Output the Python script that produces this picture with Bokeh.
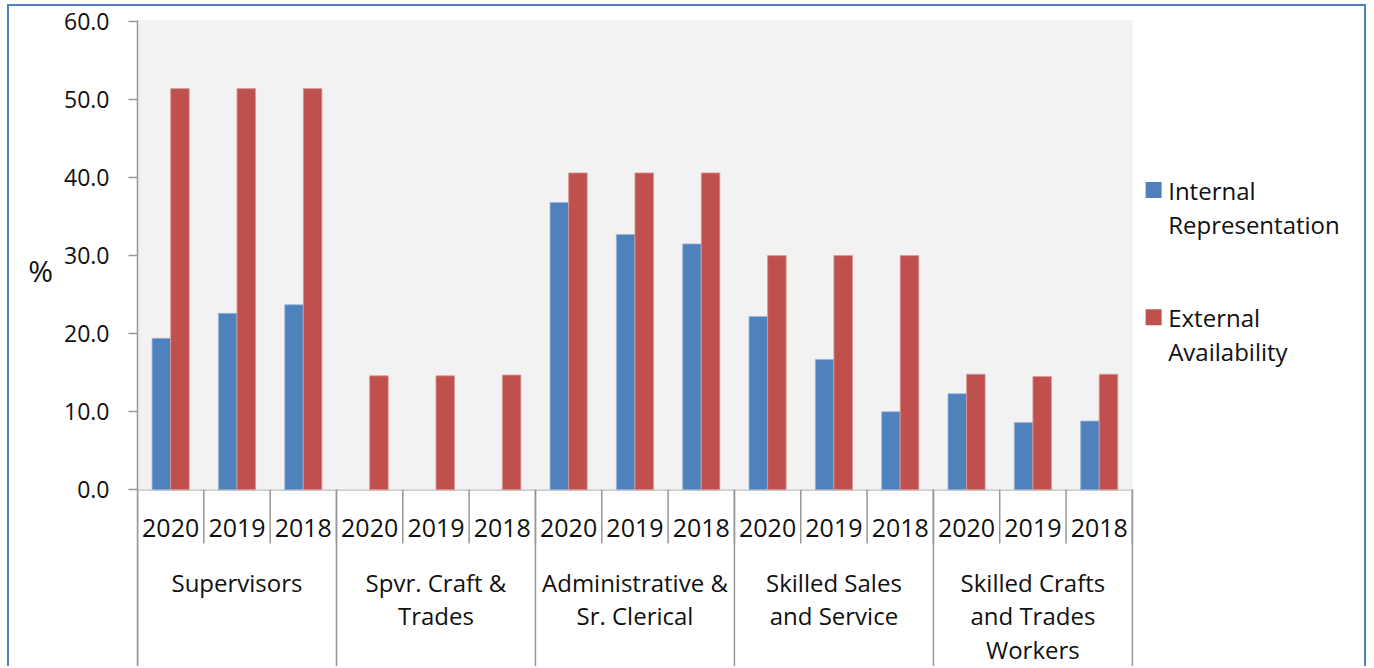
from bokeh.plotting import figure
from bokeh.models import (FixedTicker, NumeralTickFormatter, BoxAnnotation,
                          ColumnDataSource, Range1d)
from bokeh.core.properties import value
from bokeh.embed import file_html
from bokeh.resources import INLINE

# ---------------- data ----------------
categories = ["Supervisors", "Spvr. Craft &\nTrades", "Administrative &\nSr. Clerical",
              "Skilled Sales\nand Service", "Skilled Crafts\nand Trades\nWorkers"]
years = ["2020", "2019", "2018"]
internal = [19.4, 22.6, 23.7,
            None, None, None,
            36.8, 32.7, 31.5,
            22.2, 16.7, 10.0,
            12.3, 8.6, 8.8]
external = [51.4, 51.4, 51.4,
            14.6, 14.6, 14.7,
            40.6, 40.6, 40.6,
            30.0, 30.0, 30.0,
            14.8, 14.5, 14.8]
series = ["Internal\nRepresentation", "External\nAvailability"]
y_ticks = [0, 10, 20, 30, 40, 50, 60]
y_label = "%"

FONT = "Open Sans"
BLUE = "#4F81BD"
RED = "#C0504D"
GRID = "#979797"
TXT = "#111111"

ny = len(years)
n = len(categories) * ny
slot = list(range(n))                      # one slot per (category, year)
year_lab = [years[i % ny] for i in slot]
BW = 0.28                                  # bar width in slot units

Y_TOP = 60.13
Y_BOTTOM = -22.91
X_END = 18.56                              # frame continues right to hold the legend

src = ColumnDataSource(dict(
    xb=[i + 0.5 - BW / 2 for i in slot],
    xr=[i + 0.5 + BW / 2 for i in slot],
    internal=[float("nan") if v is None else v for v in internal],
    external=external,
))

p = figure(x_range=Range1d(0, X_END), y_range=Range1d(Y_BOTTOM, Y_TOP),
           width=1359, height=662, output_backend="svg", toolbar_location=None,
           x_axis_location=None, min_border_left=128, min_border_right=0,
           min_border_top=14, min_border_bottom=0)
p.styles = {"border-left": f"2px solid {BLUE}", "border-top": f"2px solid {BLUE}",
            "border-right": f"2px solid {BLUE}", "margin-left": "7px", "margin-top": "4px"}
p.outline_line_color = None
p.background_fill_color = "white"
p.border_fill_color = "white"
p.xgrid.visible = False
p.ygrid.visible = False

# plot-area shading (above zero, over the category slots only)
p.add_layout(BoxAnnotation(left=0, right=n, bottom=0, top=Y_TOP, fill_color="#F2F2F2",
                           fill_alpha=1, line_color=None, level="underlay"))

# y axis
yax = p.yaxis[0]
yax.ticker = FixedTicker(ticks=y_ticks)
yax.formatter = NumeralTickFormatter(format="0.0")
yax.major_label_text_font = FONT
yax.major_label_text_font_size = "23px"
yax.major_label_text_color = TXT
yax.major_tick_out = 9
yax.major_tick_in = 0
yax.minor_tick_out = 0
yax.minor_tick_in = 0
yax.major_label_standoff = 19
yax.axis_line_color = GRID
yax.axis_line_width = 1.5
yax.major_tick_line_color = GRID
yax.major_tick_line_width = 1.5
# "%" label: two empty trailing lines lift it from the frame centre to the ref position
yax.axis_label = y_label + "\n\n"
yax.axis_label_orientation = "horizontal"
yax.axis_label_standoff = 8
yax.axis_label_text_font = FONT
yax.axis_label_text_font_size = "30px"
yax.axis_label_text_font_style = "normal"
yax.axis_label_text_line_height = 1.8
yax.axis_label_text_color = TXT

# horizontal grid lines, only across the category area
p.segment(x0=[0] * len(y_ticks), y0=y_ticks, x1=[n] * len(y_ticks), y1=y_ticks,
          line_color=GRID, line_width=1.5, level="underlay")

# bars
p.vbar(x="xb", top="internal", width=BW, source=src,
       fill_color=BLUE, line_color="#9DB5D8", line_width=0.8)
p.vbar(x="xr", top="external", width=BW, source=src,
       fill_color=RED, line_color="#DB9A98", line_width=0.8)

# category axis drawn below zero
sep_x = [i + 1 for i in slot]
p.segment(x0=sep_x, y0=[0] * n, x1=sep_x, y1=[-6.9] * n, line_color=GRID, line_width=1.5)
grp_x = [i * ny for i in range(len(categories) + 1)]
p.segment(x0=grp_x, y0=[0] * len(grp_x), x1=grp_x, y1=[Y_BOTTOM] * len(grp_x),
          line_color=GRID, line_width=1.5)

p.text(x=[i + 0.5 for i in slot], y=[-4.96] * n, text=year_lab, text_font=value(FONT),
       text_font_size="25px", text_align="center", text_baseline="middle", text_color=TXT)

cx, cy, ct = [], [], []
for g, c in enumerate(categories):
    for k, line in enumerate(c.split("\n")):
        cx.append(g * ny + ny / 2)
        cy.append(-11.85 - k * 4.33)
        ct.append(line)
p.text(x=cx, y=cy, text=ct, text_font=value(FONT), text_font_size="24px",
       text_align="center", text_baseline="middle", text_color=TXT)

# legend (drawn in the free area right of the categories)
LX = n + 0.32
leg_y = [38.4, 22.1]
p.rect(x=[LX, LX], y=leg_y, width=16, height=16, width_units="screen",
       height_units="screen", fill_color=[BLUE, RED], line_color=None)
lx, ly, lt = [], [], []
for s, y0 in zip(series, leg_y):
    for k, line in enumerate(s.split("\n")):
        lx.append(LX + 0.22)
        ly.append(y0 - k * 4.4)
        lt.append(line)
p.text(x=lx, y=ly, text=lt, text_font=value(FONT), text_font_size="24px",
       text_align="left", text_baseline="middle", text_color=TXT)

open("out.html", "w").write(file_html(p, INLINE))
